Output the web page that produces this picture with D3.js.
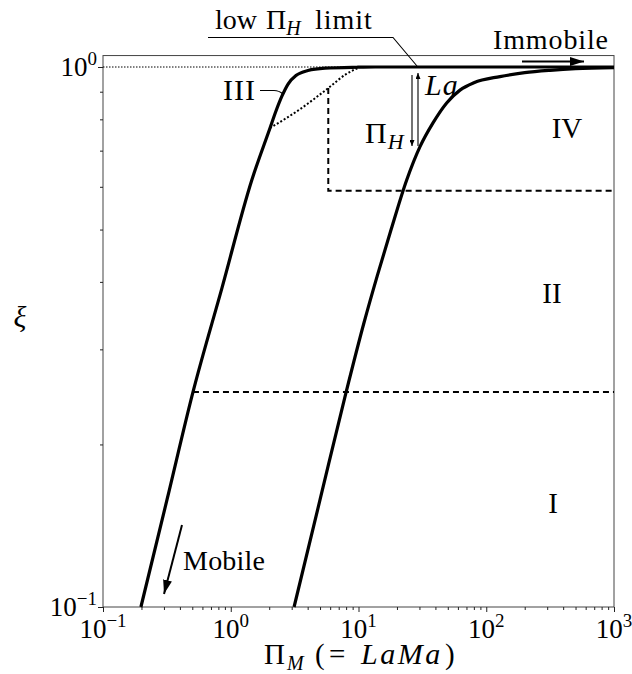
<!DOCTYPE html>
<html>
<head>
<meta charset="utf-8">
<script src="https://cdn.jsdelivr.net/npm/d3@7"></script>
<style>
  body { margin: 0; background: #fff; }
  text { font-family: "Liberation Serif", "DejaVu Serif", serif; fill: #000; }
</style>
</head>
<body>
<svg id="chart" width="632" height="674"></svg>
<script>
// Axis decades and labels
const xMajor = [0.1, 1, 10, 100, 1000];
const xExp = ["\u22121", "0", "1", "2", "3"];
const yMajor = [0.1, 1];
const yExp = ["\u22121", "0"];

// Mobility fraction xi versus Pi_M, low Pi_H branch (left solid curve)
const curveLow = [
  [0.198, 0.1], [0.317, 0.158], [0.506, 0.25], [0.854, 0.39], [1.46, 0.617],
  [2.03, 0.771], [2.26, 0.829], [2.52, 0.884], [2.81, 0.93], [3.24, 0.964],
  [4.02, 0.985], [5.47, 0.995], [9.73, 0.999], [13.5, 1.0], [1000, 1.0]
];
// High Pi_H branch (right solid curve)
const curveHigh = [
  [3.13, 0.1], [5, 0.158], [8, 0.25], [11, 0.335], [14, 0.41],
  [18, 0.5], [23.8, 0.617], [30.3, 0.712], [38.3, 0.788], [49, 0.858],
  [62.3, 0.906], [80, 0.935], [128, 0.96], [200, 0.976], [316, 0.986],
  [500, 0.993], [1000, 0.997]
];
// Low Pi_H limit (dotted)
const limitCurve = [[2.03, 0.771], [3.5, 0.836], [5.8, 0.914], [8.0, 0.97], [10.3, 1.0]];
// Regime boundaries (dashed)
const boundaryLower = [[0.506, 0.25], [1000, 0.25]];
const boundaryUpper = [[5.8, 0.914], [5.8, 0.59], [1000, 0.59]];
// Unity reference (dotted)
const unityLine = [[0.1, 1.0], [10.3, 1.0]];

const svg = d3.select("#chart");
const x = d3.scaleLog().domain([0.1, 1000]).range([103, 614]);
const y = d3.scaleLog().domain([0.1, 1]).range([607, 67]);
const yTop = y(1.05);

const line = d3.line().x(d => x(d[0])).y(d => y(d[1]));
const smooth = d3.line().x(d => x(d[0])).y(d => y(d[1])).curve(d3.curveMonotoneX);

// Frame
svg.append("rect")
  .attr("x", x(0.1)).attr("y", yTop)
  .attr("width", x(1000) - x(0.1)).attr("height", y(0.1) - yTop)
  .attr("fill", "none").attr("stroke", "#444").attr("stroke-width", 1);

// Minor ticks
const xMinor = [];
for (let d = 0.1; d < 1000; d *= 10) for (let k = 2; k <= 9; k++) xMinor.push(d * k);
const yMinor = [0.2, 0.3, 0.4, 0.5, 0.6, 0.7, 0.8, 0.9];

const gx = svg.append("g").attr("transform", `translate(0,${y(0.1)})`);
gx.call(d3.axisBottom(x).tickValues(xMinor).tickSize(3).tickFormat(""));
gx.call(g => g.selectAll(".domain").remove());
const gx2 = svg.append("g").attr("transform", `translate(0,${y(0.1)})`);
gx2.call(d3.axisBottom(x).tickValues(xMajor).tickSize(5).tickFormat(""));
gx2.call(g => g.selectAll(".domain").remove());

const gy = svg.append("g").attr("transform", `translate(${x(0.1)},0)`);
gy.call(d3.axisLeft(y).tickValues(yMinor).tickSize(3).tickFormat(""));
gy.call(g => g.selectAll(".domain").remove());
const gy2 = svg.append("g").attr("transform", `translate(${x(0.1)},0)`);
gy2.call(d3.axisLeft(y).tickValues(yMajor).tickSize(5).tickFormat(""));
gy2.call(g => g.selectAll(".domain").remove());
svg.selectAll(".tick line").attr("stroke", "#222");

// Tick labels with exponents
xMajor.forEach((v, i) => {
  const t = svg.append("text").attr("x", x(v)).attr("y", 638)
    .attr("text-anchor", "middle").attr("font-size", 27);
  t.append("tspan").text("10");
  t.append("tspan").attr("dy", -11).attr("font-size", 19).text(xExp[i]);
});
yMajor.forEach((v, i) => {
  const t = svg.append("text").attr("x", 97).attr("y", y(v) + 9)
    .attr("text-anchor", "end").attr("font-size", 27);
  t.append("tspan").text("10");
  t.append("tspan").attr("dy", -11).attr("font-size", 19).text(yExp[i]);
});

// Axis titles
const xl = svg.append("text").attr("y", 664).attr("font-size", 29);
xl.append("tspan").attr("x", 264).text("\u03A0");
xl.append("tspan").attr("x", 287).attr("dy", 6).attr("font-size", 20).attr("font-style", "italic").text("M");
xl.append("tspan").attr("x", 315).attr("dy", -6).text("(");
xl.append("tspan").attr("x", 329).text("=");
xl.append("tspan").attr("x", 361).attr("font-style", "italic").attr("font-size", 30)
  .attr("letter-spacing", 2.5).text("LaMa");
xl.append("tspan").attr("x", 445).text(")");

svg.append("text").attr("x", 20).attr("y", 327)
  .attr("text-anchor", "middle").attr("font-size", 30).attr("font-style", "italic").text("\u03BE");

// Reference and boundary lines
svg.append("path").attr("d", line(unityLine)).attr("fill", "none")
  .attr("stroke", "#000").attr("stroke-width", 1).attr("stroke-dasharray", "1.5,1.5");
svg.append("path").attr("d", line(boundaryLower)).attr("fill", "none")
  .attr("stroke", "#000").attr("stroke-width", 2).attr("stroke-dasharray", "6,4");
svg.append("path").attr("d", line(boundaryUpper)).attr("fill", "none")
  .attr("stroke", "#000").attr("stroke-width", 2).attr("stroke-dasharray", "6,4");
svg.append("path").attr("d", smooth(limitCurve)).attr("fill", "none")
  .attr("stroke", "#000").attr("stroke-width", 2).attr("stroke-dasharray", "2,2");

// Solid curves
svg.append("path").attr("d", smooth(curveLow)).attr("fill", "none")
  .attr("stroke", "#000").attr("stroke-width", 3.2);
svg.append("path").attr("d", smooth(curveHigh)).attr("fill", "none")
  .attr("stroke", "#000").attr("stroke-width", 3.2);

// Arrowheads
const defs = svg.append("defs");
function marker(id, w, h) {
  defs.append("marker").attr("id", id).attr("viewBox", `0 0 ${w} ${h}`)
    .attr("refX", w).attr("refY", h / 2).attr("markerWidth", w).attr("markerHeight", h)
    .attr("markerUnits", "userSpaceOnUse").attr("orient", "auto")
    .append("path").attr("d", `M0,0L${w},${h / 2}L0,${h}Z`).attr("fill", "#000");
}
marker("headBig", 14, 9);
marker("headSmall", 6, 5);

// Immobile arrow
svg.append("line").attr("x1", 522).attr("y1", 61.5).attr("x2", 584).attr("y2", 61.5)
  .attr("stroke", "#000").attr("stroke-width", 2).attr("marker-end", "url(#headBig)");
svg.append("text").attr("x", 493).attr("y", 49).attr("font-size", 28)
  .attr("textLength", 115).attr("lengthAdjust", "spacing").text("Immobile");

// Mobile arrow
svg.append("line").attr("x1", 182).attr("y1", 525).attr("x2", 164).attr("y2", 594)
  .attr("stroke", "#000").attr("stroke-width", 2).attr("marker-end", "url(#headBig)");
svg.append("text").attr("x", 183).attr("y", 570).attr("font-size", 28)
  .attr("textLength", 82).attr("lengthAdjust", "spacing").text("Mobile");

// Low Pi_H limit leader
svg.append("path").attr("d", "M208,37.5L393,37.5L417,66")
  .attr("fill", "none").attr("stroke", "#000").attr("stroke-width", 1.1);
const lh = svg.append("text").attr("y", 29).attr("font-size", 28);
lh.append("tspan").attr("x", 215).text("low");
lh.append("tspan").attr("x", 266).text("\u03A0");
lh.append("tspan").attr("dy", 6).attr("font-size", 20).attr("font-style", "italic").text("H");
lh.append("tspan").attr("x", 315).attr("dy", -6).attr("letter-spacing", 1).text("limit");

// Pi_H and La arrows
svg.append("line").attr("x1", 412).attr("y1", 75).attr("x2", 412).attr("y2", 146)
  .attr("stroke", "#000").attr("stroke-width", 1.1).attr("marker-end", "url(#headSmall)");
svg.append("line").attr("x1", 418).attr("y1", 146).attr("x2", 418).attr("y2", 73)
  .attr("stroke", "#000").attr("stroke-width", 1.1).attr("marker-end", "url(#headSmall)");
const ph = svg.append("text").attr("x", 365).attr("y", 143).attr("font-size", 30);
ph.append("tspan").text("\u03A0");
ph.append("tspan").attr("dx", 1).attr("dy", 6).attr("font-size", 22).attr("font-style", "italic").text("H");
svg.append("text").attr("x", 425).attr("y", 95).attr("font-size", 30)
  .attr("font-style", "italic").attr("letter-spacing", 1).text("La");

// Regime labels
svg.append("text").attr("x", 223).attr("y", 100).attr("font-size", 30)
  .attr("letter-spacing", 1).text("III");
svg.append("path").attr("d", "M260,90.5L274,90.5Q279,90.5 283,94")
  .attr("fill", "none").attr("stroke", "#000").attr("stroke-width", 1.1);
svg.append("text").attr("x", 567).attr("y", 138).attr("text-anchor", "middle").attr("font-size", 29).text("IV");
svg.append("text").attr("x", 552).attr("y", 303).attr("text-anchor", "middle").attr("font-size", 29).text("II");
svg.append("text").attr("x", 553).attr("y", 513).attr("text-anchor", "middle").attr("font-size", 29).text("I");
</script>
</body>
</html>
